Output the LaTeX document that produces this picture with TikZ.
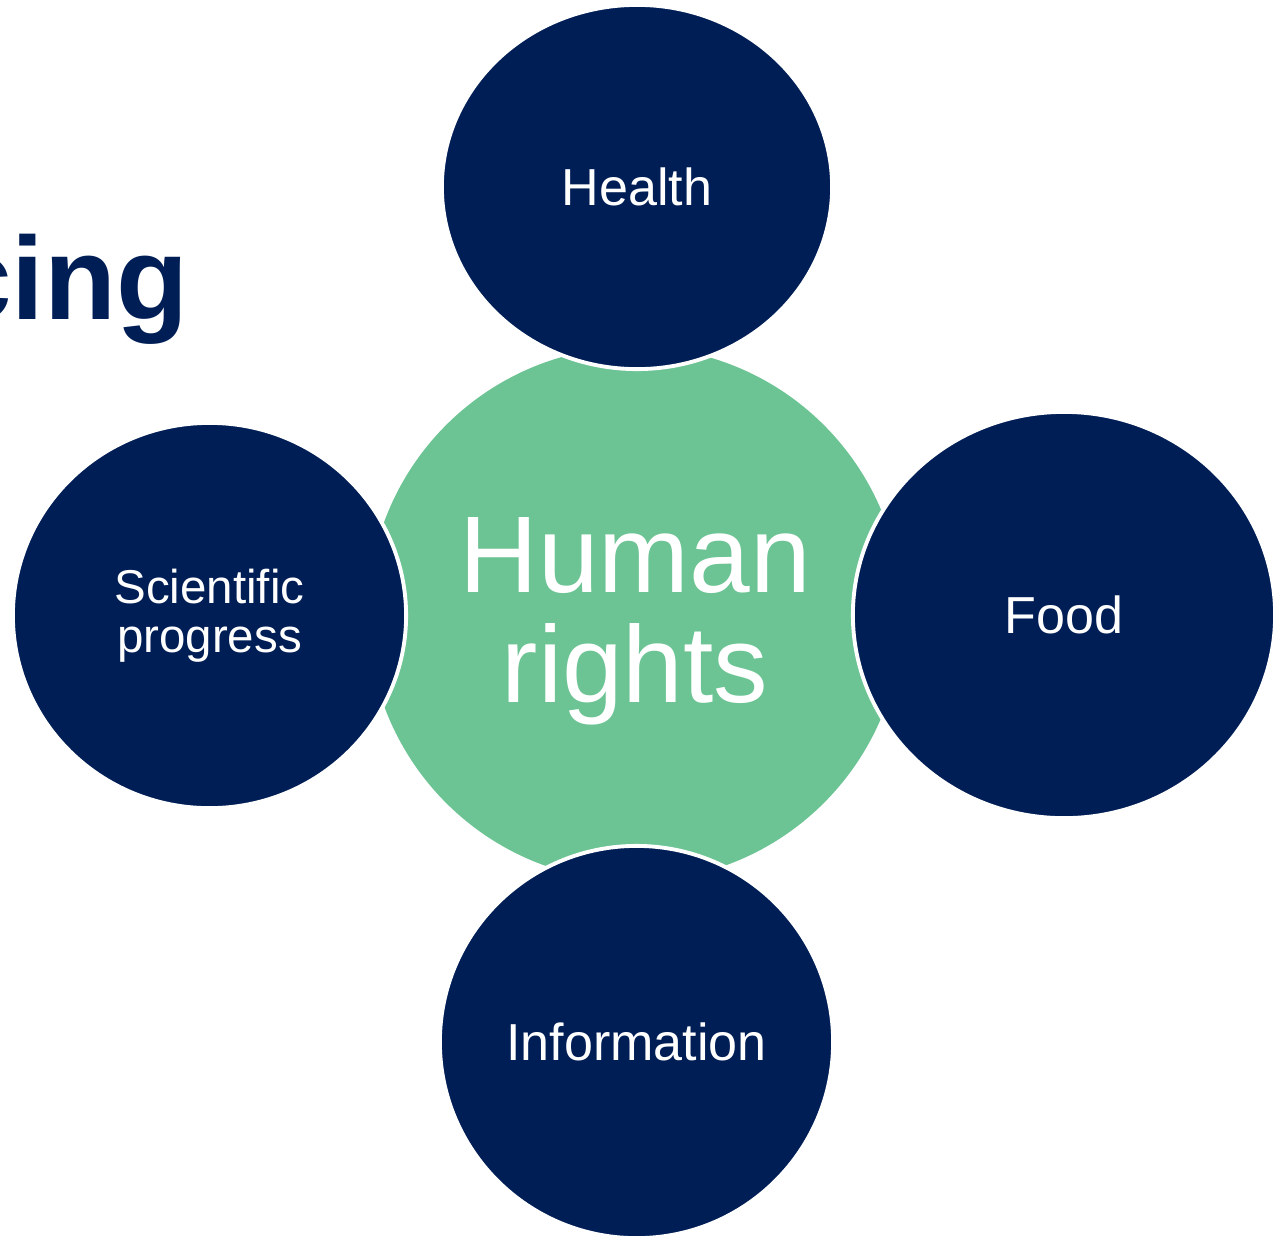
\documentclass[tikz,border=0pt]{standalone}
\usepackage{fontspec}
\setmainfont{Liberation Sans}
\usetikzlibrary{positioning}
\usetikzlibrary{shapes.geometric}

\definecolor{navy}{RGB}{0,30,86}
\definecolor{rightsgreen}{RGB}{108,196,148}

\begin{document}
\begin{tikzpicture}[x=0.01cm, y=-0.01cm,
    hub/.style={circle, fill=rightsgreen, inner sep=0pt, minimum size=5.34cm},
    hubtext/.style={text=white, inner sep=0pt, align=center, font=\fontsize{31}{31.2}\selectfont},
    topic/.style={ellipse, fill=navy, draw=white, line width=1.1pt, text=white, inner sep=0pt, align=center, font=\fontsize{14.8}{14}\selectfont}]
			% Keep the slide's frame
			\useasboundingbox (0,0) rectangle (1288,1236);

			% Title, cut off at the left edge
			\node[anchor=base east, text=navy, font=\bfseries\fontsize{33.5}{40}\selectfont] (title) at (201,319) {cing};

			% The hub and the four rights around it
			\node[hub] (hr) at (635,614) {};
			\node[hubtext] (hrtext) at (635,621) {Human\\rights};

			\node[topic, minimum width=3.90cm, minimum height=3.64cm] (health) at (637,187) {Health};
			\node[topic, minimum width=4.22cm, minimum height=4.06cm] (food) at (1064,615) {Food};
			\node[topic, minimum width=3.93cm, minimum height=3.92cm] (info) at (636.5,1042) {Information};
			\node[topic, minimum width=3.93cm, minimum height=3.85cm, font=\fontsize{13.5}{13.9}\selectfont] (sci) at (209.5,615.5) {Scientific\\progress};
		\end{tikzpicture}
\end{document}
